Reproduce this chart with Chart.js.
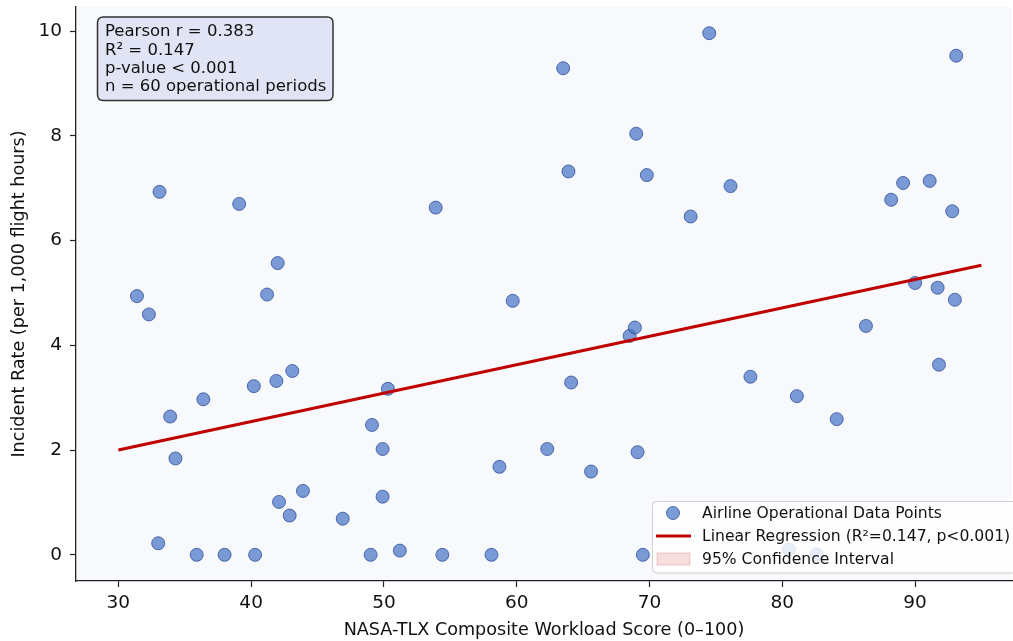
<!DOCTYPE html>
<html>
<head>
<meta charset="utf-8">
<script src="https://cdn.jsdelivr.net/npm/chart.js@4.4.1/dist/chart.umd.min.js"></script>
<style>
  html, body { margin: 0; padding: 0; background: #fff; }
  #wrap { width: 1013px; height: 641px; }
</style>
</head>
<body>
<div id="wrap"><canvas id="scatterChart" width="1013" height="641"></canvas></div>
<script>
// ----------------- Data -----------------
const workloadScores = [
  31.4, 32.3, 33.1, 33.9, 34.3, 33.0, 35.9, 38.0, 40.3, 36.4,
  39.1, 40.2, 41.2, 42.0, 41.9, 43.1, 42.1, 42.9, 43.9, 46.9,
  49.0, 49.1, 49.9, 49.9, 50.3, 51.2, 53.9, 54.4, 58.1, 58.7,
  59.7, 62.3, 63.5, 63.9, 64.1, 65.6, 68.5, 68.9, 69.0, 69.1,
  69.5, 69.8, 73.1, 74.5, 76.1, 77.6, 81.1, 84.1, 86.3, 88.2,
  89.1, 91.1, 92.8, 93.1, 90.0, 91.7, 93.0, 91.8, 80.5, 82.6
];
const incidentRates = [
  4.94, 4.59, 6.93, 2.64, 1.84, 0.22, 0.00, 0.00, 0.00, 2.97,
  6.70, 3.22, 4.97, 5.57, 3.32, 3.51, 1.01, 0.75, 1.22, 0.69,
  0.00, 2.48, 2.02, 1.11, 3.17, 0.08, 6.63, 0.00, 0.00, 1.68,
  4.85, 2.02, 9.29, 7.32, 3.29, 1.59, 4.18, 4.34, 8.04, 1.96,
  0.00, 7.25, 6.46, 9.96, 7.04, 3.40, 3.03, 2.59, 4.37, 6.78,
  7.10, 7.14, 6.56, 9.53, 5.19, 5.10, 4.87, 3.63, 0.10, 0.01
];
const regressionX = [30, 95];
const regressionY = [2.00, 5.53];

const xTicks = [30, 40, 50, 60, 70, 80, 90];
const yTicks = [0, 2, 4, 6, 8, 10];

const statsLines = [
  'Pearson r = 0.383',
  'R\u00b2 = 0.147',
  'p-value < 0.001',
  'n = 60 operational periods'
];
const legendLabels = [
  'Airline Operational Data Points',
  'Linear Regression (R\u00b2=0.147, p<0.001)',
  '95% Confidence Interval'
];

// ----------------- Styles -----------------
const FONT = '"DejaVu Sans", "Liberation Sans", sans-serif';
const pointFill = 'rgba(68, 114, 196, 0.7)';
const pointEdge = 'rgba(40, 72, 150, 0.75)';
const lineRed = '#c00000';

// ----------------- Plugins -----------------
const plotBackground = {
  id: 'plotBackground',
  beforeDraw(chart) {
    const { ctx, chartArea: a } = chart;
    ctx.save();
    ctx.fillStyle = '#f8f9fc';
    ctx.fillRect(a.left, a.top, a.right - a.left, a.bottom - a.top);
    ctx.restore();
  }
};

function roundRect(ctx, x, y, w, h, r) {
  ctx.beginPath();
  ctx.moveTo(x + r, y);
  ctx.lineTo(x + w - r, y);
  ctx.quadraticCurveTo(x + w, y, x + w, y + r);
  ctx.lineTo(x + w, y + h - r);
  ctx.quadraticCurveTo(x + w, y + h, x + w - r, y + h);
  ctx.lineTo(x + r, y + h);
  ctx.quadraticCurveTo(x, y + h, x, y + h - r);
  ctx.lineTo(x, y + r);
  ctx.quadraticCurveTo(x, y, x + r, y);
  ctx.closePath();
}

const annotations = {
  id: 'annotations',
  afterDatasetsDraw(chart) {
    const { ctx } = chart;
    ctx.save();

    // stats box
    roundRect(ctx, 97.5, 17, 235.5, 83.5, 6);
    ctx.fillStyle = 'rgba(222, 227, 244, 0.95)';
    ctx.fill();
    ctx.lineWidth = 1.5;
    ctx.strokeStyle = '#333';
    ctx.stroke();
    ctx.fillStyle = '#111';
    ctx.font = '16.5px ' + FONT;
    ctx.textBaseline = 'middle';
    ctx.textAlign = 'left';
    statsLines.forEach((t, i) => ctx.fillText(t, 105, 32 + i * 18.3));

    // legend
    roundRect(ctx, 652.5, 501.5, 370, 71.5, 4);
    ctx.fillStyle = 'rgba(255, 255, 255, 0.82)';
    ctx.fill();
    ctx.lineWidth = 1;
    ctx.strokeStyle = '#d0d0d0';
    ctx.stroke();

    const rows = [513, 536, 559];
    ctx.beginPath();
    ctx.arc(673, rows[0], 6.5, 0, Math.PI * 2);
    ctx.fillStyle = pointFill;
    ctx.fill();
    ctx.lineWidth = 1;
    ctx.strokeStyle = pointEdge;
    ctx.stroke();

    ctx.beginPath();
    ctx.moveTo(656, rows[1]);
    ctx.lineTo(691, rows[1]);
    ctx.lineWidth = 3;
    ctx.strokeStyle = lineRed;
    ctx.stroke();

    ctx.fillStyle = 'rgba(192, 0, 0, 0.13)';
    ctx.fillRect(657, rows[2] - 6, 33, 12);
    ctx.lineWidth = 1;
    ctx.strokeStyle = 'rgba(192, 0, 0, 0.18)';
    ctx.strokeRect(657, rows[2] - 6, 33, 12);

    ctx.fillStyle = '#111';
    ctx.font = '15.6px ' + FONT;
    legendLabels.forEach((t, i) => ctx.fillText(t, 702, rows[i] + 1));
    ctx.restore();
  }
};

// ----------------- Chart -----------------
const ctx = document.getElementById('scatterChart').getContext('2d');
new Chart(ctx, {
  type: 'scatter',
  data: {
    datasets: [
      {
        type: 'line',
        label: legendLabels[1],
        data: regressionX.map((x, i) => ({ x, y: regressionY[i] })),
        borderColor: lineRed,
        borderWidth: 3,
        pointRadius: 0,
        tension: 0,
        fill: false,
        order: 0
      },
      {
        label: legendLabels[0],
        data: workloadScores.map((x, i) => ({ x, y: incidentRates[i] })),
        backgroundColor: pointFill,
        borderColor: pointEdge,
        borderWidth: 1,
        pointRadius: 6.5,
        order: 1
      }
    ]
  },
  options: {
    responsive: false,
    animation: false,
    layout: { autoPadding: false, padding: { top: 7, right: 1, left: 0, bottom: 0 } },
    plugins: {
      legend: { display: false },
      tooltip: { enabled: false }
    },
    scales: {
      x: {
        type: 'linear',
        min: 26.81,
        max: 97.3,
        afterBuildTicks: s => { s.ticks = xTicks.map(v => ({ value: v })); },
        afterFit: s => { s.height = 60; s.paddingLeft = 0; s.paddingRight = 0; },
        grid: { drawOnChartArea: false, drawTicks: true, tickLength: 6, tickColor: '#222', tickWidth: 1.2 },
        border: { display: true, color: '#222', width: 1.3 },
        ticks: { color: '#111', font: { family: FONT, size: 18.5 }, padding: 5, maxRotation: 0 },
        title: {
          display: true,
          text: 'NASA-TLX Composite Workload Score (0\u2013100)',
          color: '#111',
          font: { family: FONT, size: 17.6 },
          padding: { top: 0, bottom: 0 }
        }
      },
      y: {
        type: 'linear',
        min: -0.5,
        max: 10.46,
        afterBuildTicks: s => { s.ticks = yTicks.map(v => ({ value: v })); },
        afterFit: s => { s.width = 76; s.paddingTop = 0; s.paddingBottom = 0; },
        grid: { drawOnChartArea: false, drawTicks: true, tickLength: 6, tickColor: '#222', tickWidth: 1.2 },
        border: { display: true, color: '#222', width: 1.3 },
        ticks: { color: '#111', font: { family: FONT, size: 18.5 }, padding: 8 },
        title: {
          display: true,
          text: 'Incident Rate (per 1,000 flight hours)',
          color: '#111',
          font: { family: FONT, size: 17.6 },
          padding: { top: 9, bottom: 0 }
        }
      }
    }
  },
  plugins: [plotBackground, annotations]
});
</script>
</body>
</html>
